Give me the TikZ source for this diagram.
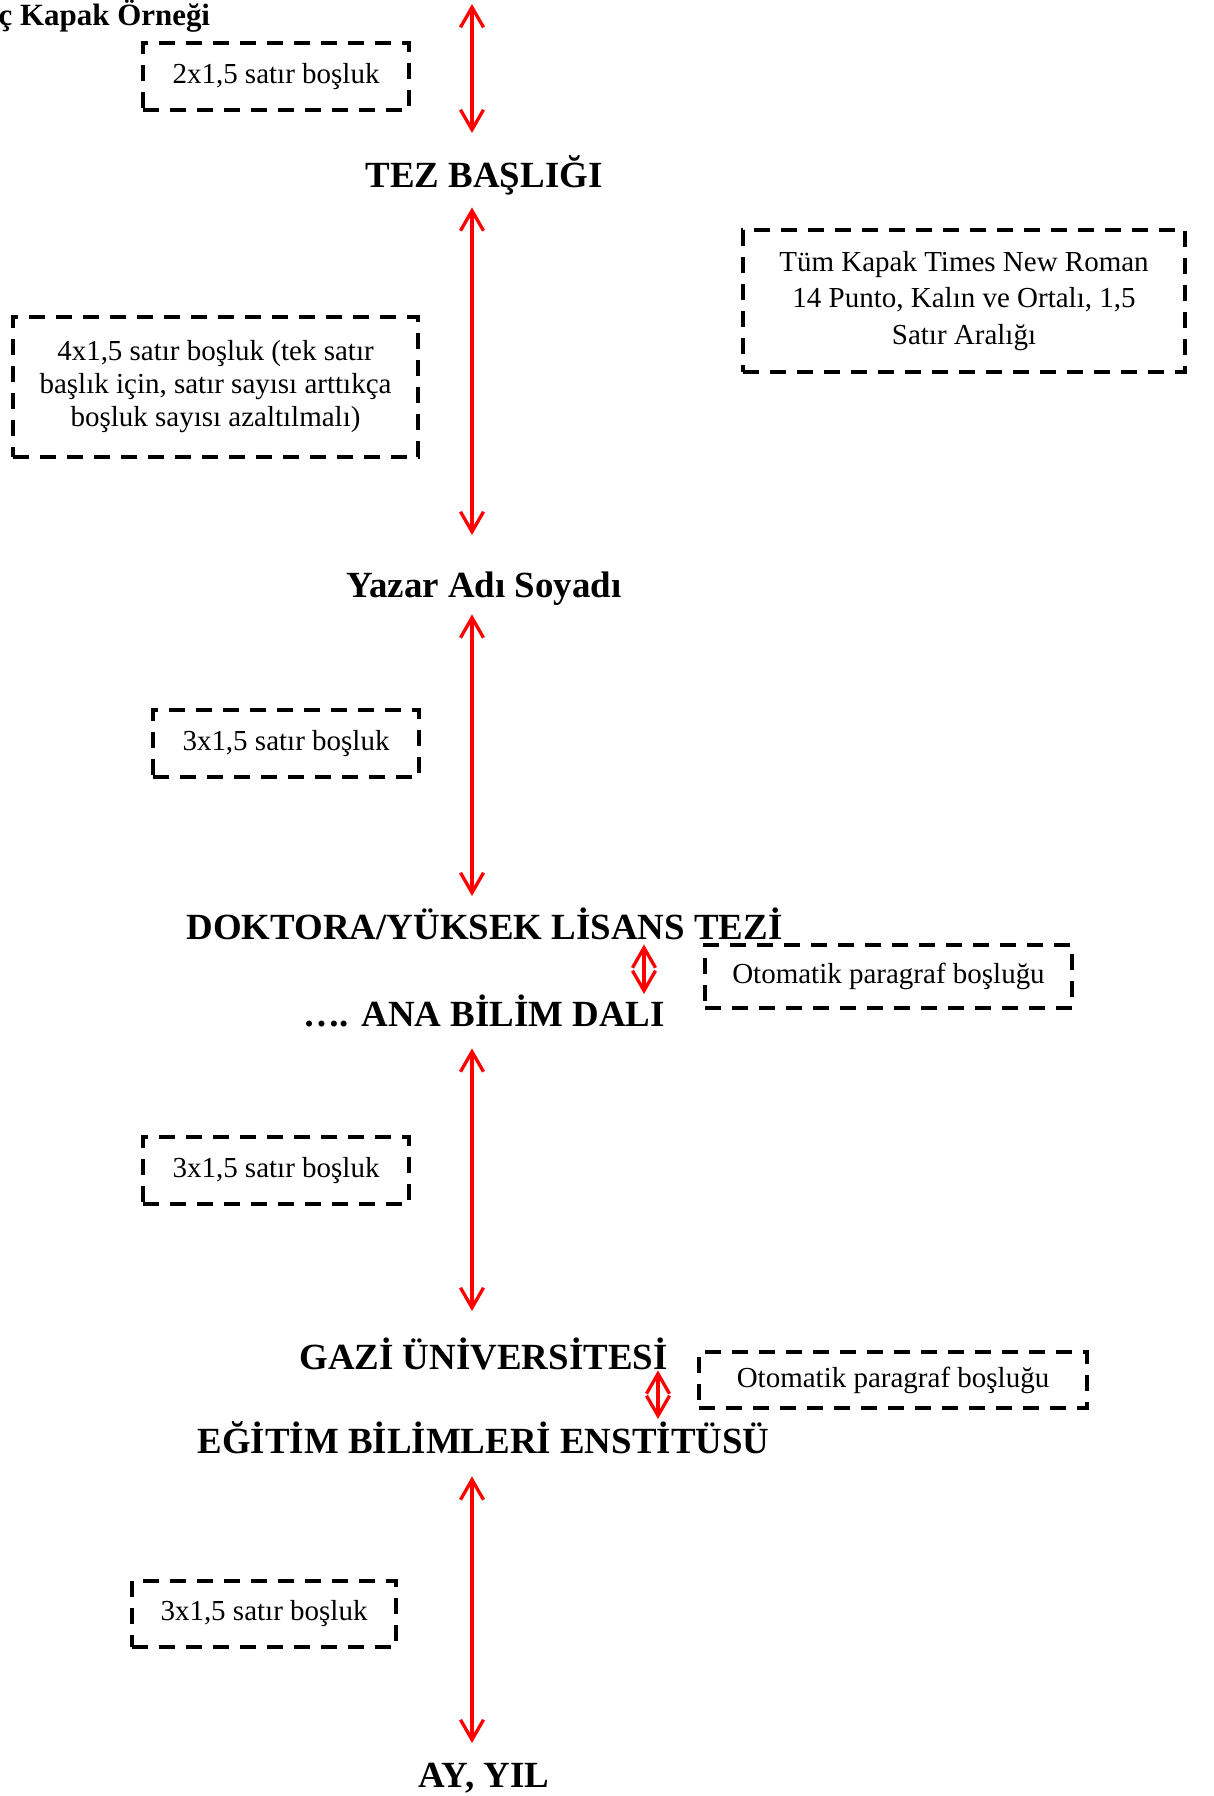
\documentclass[tikz,border=0pt]{standalone}
\usepackage{fontspec}
\setmainfont{Liberation Serif}
\usetikzlibrary{arrows.meta}

\begin{document}
\begin{tikzpicture}
[x=0.1mm,y=-0.1mm
,baslik/.style={font=\fontsize{10.5}{12.6}\selectfont\bfseries,inner sep=0pt,text height=2.4mm,text depth=0pt,anchor=north}
,bosluk/.style={draw,line width=0.33mm,dash pattern=on 1.6mm off 1.1mm,inner sep=0pt,align=center,font=\fontsize{8.25}{10.5}\selectfont}
,ok/.style={draw=red,line width=0.33mm,arrows={Straight Barb[length=2mm,width=2.3mm]-Straight Barb[length=2mm,width=2.3mm]}}
]
\useasboundingbox (0,0) rectangle (1213,1796);
\node[font=\fontsize{8.8}{10}\selectfont\bfseries,inner sep=0pt,anchor=base west] (baslk) at (-2,25) {ç Kapak Örneği};
% basliklar
\node[baslik] (t1) at (484,163) {TEZ BAŞLIĞI};
\node[baslik] (t2) at (484,573) {Yazar Adı Soyadı};
\node[baslik] (t3) at (484.5,915) {DOKTORA/YÜKSEK LİSANS TEZİ};
\node[baslik] (t4) at (484,1002) {…. ANA BİLİM DALI};
\node[baslik] (t5) at (483.5,1345) {GAZİ ÜNİVERSİTESİ};
\node[baslik] (t6) at (483.5,1429) {EĞİTİM BİLİMLERİ ENSTİTÜSÜ};
\node[baslik] (t7) at (484,1763) {AY, YIL};
% kutular
\node[bosluk,minimum width=26.6mm,minimum height=6.7mm] (b1) at (276,76.5) {2x1,5 satır boşluk};
\node[bosluk,minimum width=44.2mm,minimum height=14.2mm,font=\fontsize{8.25}{10.5}\selectfont] (b2) at (964,301) {Tüm Kapak Times New Roman\\14 Punto, Kalın ve Ortalı, 1,5\\Satır Aralığı};
\node[bosluk,minimum width=40.5mm,minimum height=14mm,font=\fontsize{8.25}{9.4}\selectfont] (b3) at (215.5,387) {4x1,5 satır boşluk (tek satır\\başlık için, satır sayısı arttıkça\\boşluk sayısı azaltılmalı)};
\node[bosluk,minimum width=26.6mm,minimum height=6.7mm] (b4) at (286,743.5) {3x1,5 satır boşluk};
\node[bosluk,minimum width=36.7mm,minimum height=6.3mm] (b5) at (888.5,976.5) {Otomatik paragraf boşluğu};
\node[bosluk,minimum width=26.6mm,minimum height=6.7mm] (b6) at (276,1170.5) {3x1,5 satır boşluk};
\node[bosluk,minimum width=38.8mm,minimum height=5.6mm] (b7) at (893,1380) {Otomatik paragraf boşluğu};
\node[bosluk,minimum width=26.4mm,minimum height=6.6mm] (b8) at (264,1614) {3x1,5 satır boşluk};
% oklar
\coordinate (ust) at (472,4);
\coordinate (k1) at (644,960);
\coordinate (k2) at (658,1390);
\draw[ok,shorten >=3mm] (ust) -- (t1.north -| ust);
\draw[ok,shorten <=1.9mm,shorten >=3.8mm] (t1.south -| ust) -- (t2.north -| ust);
\draw[ok,shorten <=1.6mm,shorten >=1.9mm] (t2.south -| ust) -- (t3.north -| ust);
\draw[ok,shorten <=0.4mm,shorten >=0.8mm] (t3.south -| k1) -- (t4.north -| k1);
\draw[ok,shorten <=2.1mm,shorten >=3.4mm] (t4.south -| ust) -- (t5.north -| ust);
\draw[ok,shorten >=1mm] (t5.south -| k2) -- (t6.north -| k2);
\draw[ok,shorten <=2.2mm,shorten >=2mm] (t6.south -| ust) -- (t7.north -| ust);
\end{tikzpicture}
\end{document}
